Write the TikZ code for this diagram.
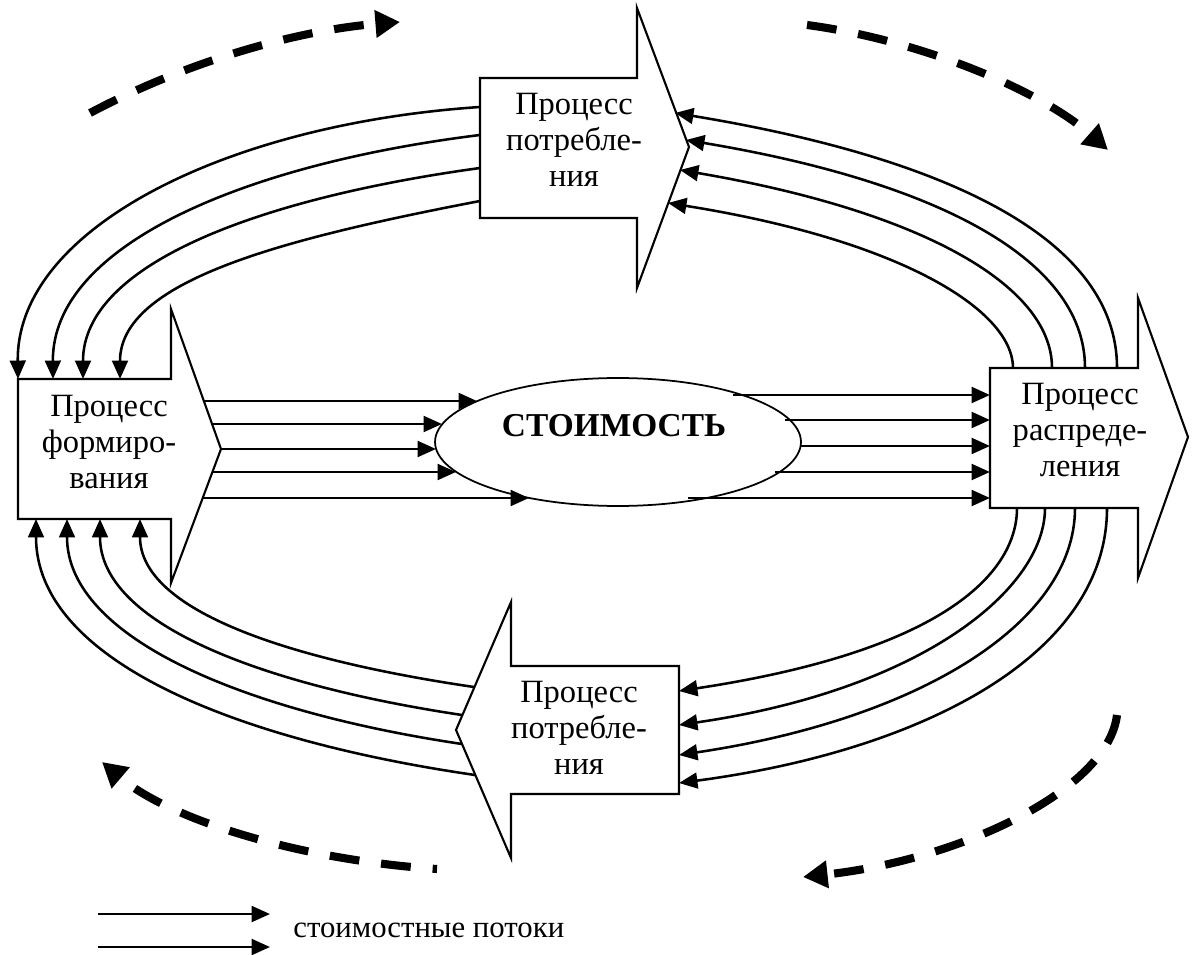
\documentclass[tikz,border=0pt]{standalone}
\usepackage{fontspec}
\setmainfont{Liberation Serif}
\usetikzlibrary{arrows.meta,shapes.geometric}
\begin{document}
\begin{tikzpicture}[x=0.02cm,y=-0.02cm,
  outline/.style={line width=1.2pt, line join=miter},
  flow/.style={line width=1.45pt, -{Triangle[length=10.5pt,width=9pt]}},
  hflow/.style={flow, line width=1.6pt},
  cyclearrow/.style={line width=4.6pt, dash pattern=on 17pt off 12.5pt,
    -{Triangle[length=14pt,width=15pt]}},
  proctext/.style={font=\fontsize{18.5}{20.5}\selectfont, align=center, inner sep=0pt},
]
\useasboundingbox (0,0) rectangle (1192,955);

% ---- process arrows ----
\draw[outline] (18,379) -- (171,379) -- (171,309) -- (221,449) -- (171,583)
  -- (171,519) -- (18,519) -- cycle;
\node[proctext] (form) at (109,442) {Процесс\\формиро-\\вания};

\draw[outline] (480,78) -- (637,78) -- (637,8) -- (689,147) -- (637,288)
  -- (637,218) -- (480,218) -- cycle;
\node[proctext] (constop) at (574,140) {Процесс\\потребле-\\ния};

\draw[outline] (990,368) -- (1138,368) -- (1138,298) -- (1188,437) -- (1138,578)
  -- (1138,508) -- (990,508) -- cycle;
\node[proctext] (distr) at (1080,430) {Процесс\\распреде-\\ления};

\draw[outline] (679,666) -- (511,666) -- (511,602) -- (456,730) -- (511,858)
  -- (511,794) -- (679,794) -- cycle;
\node[proctext] (consbot) at (579,728) {Процесс\\потребле-\\ния};

% ---- value ellipse ----
\node[draw, ellipse, line width=1pt, minimum width=7.32cm, minimum height=2.56cm,
  inner sep=0pt] (value) at (618,442) {};
\node[anchor=base, font=\fontsize{19}{22}\selectfont\bfseries, inner sep=0pt]
  (valuetext) at (614,437) {СТОИМОСТЬ};

% ---- straight flows into and out of the ellipse ----
\foreach \ys/\xs/\xe [count=\i] in {401/204/477, 424/212/442, 449/221/436,
    472/212/456, 498/203/529} {
  \coordinate (inS\i) at (\xs,\ys);
  \coordinate (inE\i) at (\xe,\ys);
  \draw[hflow] (inS\i) -- (inE\i);
}
\foreach \ys/\xs [count=\i] in {395/733, 420/785, 446/800, 472/775, 498/688} {
  \coordinate (outS\i) at (\xs,\ys);
  \coordinate (outE\i) at (990,\ys);
  \draw[hflow] (outS\i) -- (outE\i);
}

% ---- consumption (top) -> formation ----
\draw[flow] (480,107) .. controls (226,124) and (16,229) .. (18,379);
\draw[flow] (480,135) .. controls (245,164) and (52,245) .. (53,379);
\draw[flow] (480,168) .. controls (262,198) and (83,263) .. (83,379);
\draw[flow] (480,201) .. controls (282,239) and (120,281) .. (120,379);

% ---- distribution -> consumption (top) ----
\draw[flow] (1117,368) .. controls (1117,228) and (918,153) .. (675,113);
\draw[flow] (1085,368) .. controls (1085,255) and (926,180) .. (686,140);
\draw[flow] (1052,368) .. controls (1052,283) and (915,210) .. (680,170);
\draw[flow] (1013,368) .. controls (1013,310) and (900,240) .. (668,203);

% ---- distribution -> consumption (bottom) ----
\draw[flow] (1017,508) .. controls (1017,570) and (950,650) .. (679,691);
\draw[flow] (1045,508) .. controls (1045,590) and (920,690) .. (679,725);
\draw[flow] (1075,508) .. controls (1075,625) and (915,720) .. (679,755);
\draw[flow] (1107,508) .. controls (1107,659) and (914,752) .. (679,783);

% ---- consumption (bottom) -> formation ----
\draw[flow] (474,687) .. controls (290,660) and (140,611) .. (140,519);
\draw[flow] (462,715) .. controls (262,685) and (100,624) .. (100,519);
\draw[flow] (462,744) .. controls (247,712) and (67,639) .. (67,519);
\draw[flow] (475,775) .. controls (234,740) and (36,660) .. (36,519);

% ---- circulation arrows ----
\coordinate (cyA) at (90,113);   \coordinate (cyB) at (400,22);
\coordinate (cyC) at (807,25);   \coordinate (cyD) at (1108,150);
\coordinate (cyE) at (1117,715); \coordinate (cyF) at (803,877);
\coordinate (cyG) at (437,869);  \coordinate (cyH) at (102,762);
\draw[cyclearrow] (cyA) .. controls (190,60) and (300,30) .. (cyB);
\draw[cyclearrow] (cyC) .. controls (920,40) and (1040,90) .. (cyD);
\draw[cyclearrow] (cyE) .. controls (1108,790) and (960,860) .. (cyF);
\draw[cyclearrow, dash phase=14.5pt] (cyG) .. controls (300,860) and (170,820) .. (cyH);

% ---- legend ----
\coordinate (keyA1) at (98,914);  \coordinate (keyA2) at (270,914);
\coordinate (keyB1) at (98,947);  \coordinate (keyB2) at (270,947);
\draw[hflow] (keyA1) -- (keyA2);
\draw[hflow] (keyB1) -- (keyB2);
\node[anchor=base west, font=\fontsize{17.5}{20.5}\selectfont, inner sep=0pt]
  (keytext) at (293,937) {стоимостные потоки};
\end{tikzpicture}
\end{document}
